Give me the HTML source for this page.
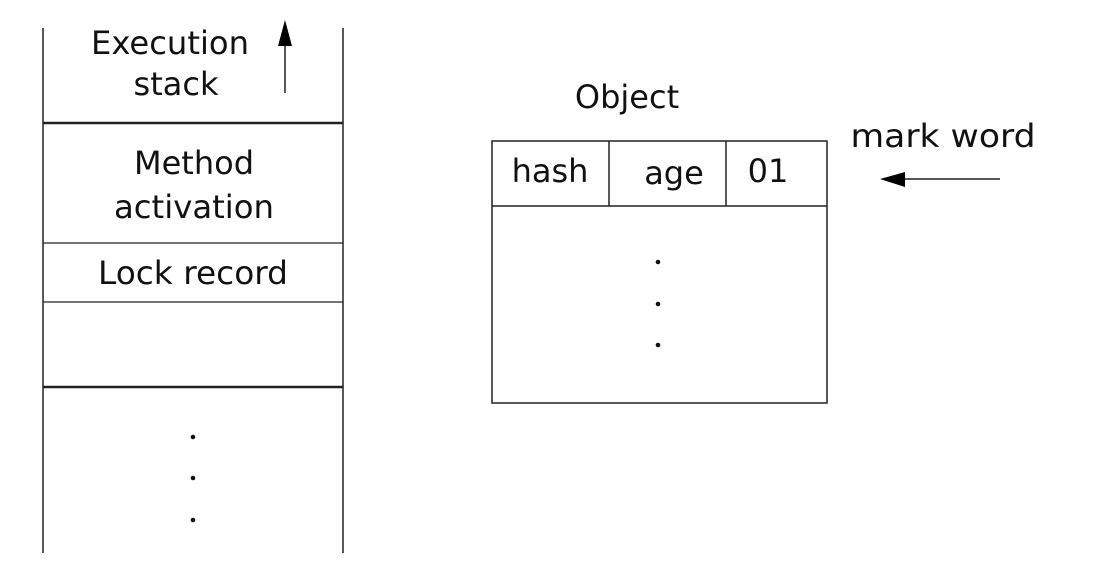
<!DOCTYPE html>
<html><head><meta charset="utf-8"><style>
html,body{margin:0;padding:0;background:#fff;}
svg text{font-family:"DejaVu Sans","Liberation Sans",sans-serif;font-size:32px;fill:#111;}
</style></head><body>
<svg width="1098" height="576" viewBox="0 0 1098 576" xmlns="http://www.w3.org/2000/svg">
<g stroke="#222" fill="none">
<line x1="43" y1="28" x2="43" y2="553" stroke-width="1.5"/>
<line x1="343" y1="28" x2="343" y2="553" stroke-width="1.5"/>
<line x1="43" y1="123" x2="343" y2="123" stroke-width="2.5"/>
<line x1="43" y1="243" x2="343" y2="243" stroke-width="1.3"/>
<line x1="43" y1="302" x2="343" y2="302" stroke-width="1.3"/>
<line x1="43" y1="387" x2="343" y2="387" stroke-width="2.5"/>
<line x1="285" y1="93" x2="285" y2="40" stroke-width="1.5"/>
<rect x="492" y="141" width="335" height="262" stroke-width="1.5"/>
<line x1="492" y1="206" x2="827" y2="206" stroke-width="1.5"/>
<line x1="609" y1="141" x2="609" y2="206" stroke-width="1.5"/>
<line x1="726" y1="141" x2="726" y2="206" stroke-width="1.5"/>
<line x1="1000" y1="179" x2="905" y2="179" stroke-width="1.5"/>
</g>
<polygon points="285,20 278,46 292,46" fill="#000"/>
<polygon points="880,179 905,172 905,187" fill="#000"/>
<g text-anchor="middle">
<text x="170" y="54" textLength="158" lengthAdjust="spacingAndGlyphs">Execution</text>
<text x="176" y="95">stack</text>
<text x="194" y="174">Method</text>
<text x="194" y="218" textLength="160" lengthAdjust="spacingAndGlyphs">activation</text>
<text x="193" y="284" textLength="190" lengthAdjust="spacingAndGlyphs">Lock record</text>
<text x="627" y="108">Object</text>
<text x="943" y="147" textLength="185" lengthAdjust="spacingAndGlyphs">mark word</text>
<text x="550" y="182">hash</text>
<text x="674" y="184">age</text>
<text x="768" y="182">01</text>
</g>
<g fill="#111">
<circle cx="658" cy="262" r="2.3"/><circle cx="658" cy="304" r="2.3"/><circle cx="658" cy="345" r="2.3"/>
<circle cx="193" cy="437" r="2.3"/><circle cx="193" cy="478" r="2.3"/><circle cx="193" cy="520" r="2.3"/>
</g>
</svg>
</body></html>
